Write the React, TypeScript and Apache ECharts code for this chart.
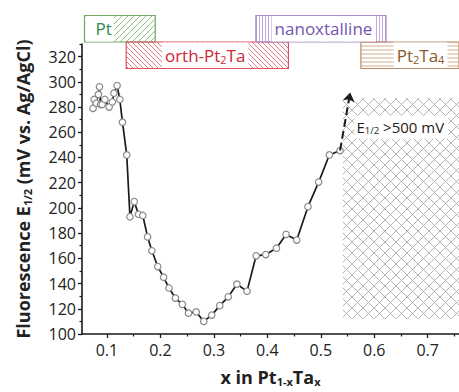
import React, { useEffect, useRef } from 'react';
import * as echarts from 'echarts';

// ---- data ----
const xValues = [
  0.074, 0.076, 0.080, 0.084, 0.086, 0.088, 0.091, 0.096, 0.104, 0.110, 0.113, 0.119, 0.124,
  0.129, 0.137, 0.143, 0.151, 0.159, 0.167, 0.176, 0.184, 0.195, 0.206, 0.216, 0.228, 0.241,
  0.2525, 0.267, 0.281, 0.296, 0.311, 0.327, 0.343, 0.362, 0.379, 0.397, 0.417, 0.435, 0.455,
  0.476, 0.496, 0.516, 0.536,
];
const yValues = [
  279, 286, 283, 290, 296, 282, 282, 286, 280, 284, 291, 297, 286,
  268, 242, 193, 205, 195, 194, 177, 166, 153.5, 145, 136.5, 128.5, 123.5,
  116.5, 117.5, 110, 115, 122.5, 129.5, 139.5, 134, 162, 163, 168, 179, 174.5,
  201, 220.5, 242, 245.5,
];
const xTickValues = [0.1, 0.2, 0.3, 0.4, 0.5, 0.6, 0.7];
const xMinorTickValues = [0.15, 0.25, 0.35, 0.45, 0.55, 0.65, 0.75];
const yTickValues = [100, 120, 140, 160, 180, 200, 220, 240, 260, 280, 300, 320];
const yMinorTickValues = [110, 130, 150, 170, 190, 210, 230, 250, 270, 290, 310, 330];
const xMin = 0.0533;
const xMax = 0.7585;
const yMin = 100;
const yMax = 330;

const phaseNames = ['Pt', 'orth-Pt{s|2}Ta', 'nanoxtalline', 'Pt{s|2}Ta{s|4}'];
const phaseStart = [0.058, 0.136, 0.3785, 0.575];
const phaseEnd = [0.1903, 0.4394, 0.622, 0.7585];
const phaseLabelCenter = [0.0938, 0.2837, 0.505, 0.6866];

const hatchX = [0.541, 0.7585];
const hatchY = [112, 287];
const arrowFrom = [0.536, 245.5];
const arrowTo = [0.555, 291.5];
const noteText = 'E{s|1/2} >500 mV';
const notePos = [0.563, 264];

const FONT = "'Open Sans', 'Noto Sans', sans-serif";

function makePattern(kind: string, size: number, color: string, lw: number) {
  const c = document.createElement('canvas');
  c.width = size;
  c.height = size;
  const ctx = c.getContext('2d')!;
  ctx.strokeStyle = color;
  ctx.lineWidth = lw;
  ctx.beginPath();
  const s = size;
  if (kind === '/' || kind === 'x') {
    ctx.moveTo(0, s); ctx.lineTo(s, 0);
    ctx.moveTo(-1, 1); ctx.lineTo(1, -1);
    ctx.moveTo(s - 1, s + 1); ctx.lineTo(s + 1, s - 1);
  }
  if (kind === '\\' || kind === 'x') {
    ctx.moveTo(0, 0); ctx.lineTo(s, s);
    ctx.moveTo(s - 1, -1); ctx.lineTo(s + 1, 1);
    ctx.moveTo(-1, s - 1); ctx.lineTo(1, s + 1);
  }
  if (kind === '|') {
    ctx.moveTo(s / 2, 0); ctx.lineTo(s / 2, s);
  }
  if (kind === '-') {
    ctx.moveTo(0, s / 2); ctx.lineTo(s, s / 2);
  }
  ctx.stroke();
  return { image: c, repeat: 'repeat', imageWidth: s, imageHeight: s } as any;
}

export default function App() {
  const ref = useRef<HTMLDivElement>(null);
  useEffect(() => {
    const chart = echarts.init(ref.current!, null, { renderer: 'svg' });
    const crossPattern = makePattern('x', 11, '#b4b4b4', 1);

    const axisCommon = {
      type: 'value' as const,
      splitLine: { show: false },
    };

    chart.setOption({
      animation: false,
      backgroundColor: '#fff',
      grid: { left: 82, right: 0, top: 44, bottom: 57 },
      xAxis: [
        {
          ...axisCommon,
          min: xMin,
          max: xMax,
          axisLine: { show: true, lineStyle: { color: '#1a1a1a', width: 1.6 } },
          axisTick: { show: true, customValues: xTickValues, length: 4, lineStyle: { color: '#1a1a1a', width: 1.3 } },
          axisLabel: {
            customValues: xTickValues,
            margin: 8,
            fontSize: 16,
            fontFamily: FONT,
            color: '#222',
            formatter: (v: number) => v.toFixed(1),
          },
          name: 'x in Pt{s|1-x}Ta{s|x}',
          nameLocation: 'middle',
          nameGap: 33,
          nameTextStyle: {
            fontSize: 18,
            fontWeight: 'bold',
            fontFamily: FONT,
            color: '#222',
            lineHeight: 20,
            rich: {
              s: { fontSize: 11, fontWeight: 'bold', fontFamily: FONT, color: '#222', verticalAlign: 'bottom', lineHeight: 9 },
            },
          },
        },
        {
          ...axisCommon,
          min: xMin,
          max: xMax,
          axisLine: { show: false },
          axisTick: { show: true, customValues: xMinorTickValues, length: 2.5, lineStyle: { color: '#1a1a1a', width: 1.2 } },
          axisLabel: { show: false },
          position: 'bottom',
        },
      ],
      yAxis: [
        {
          ...axisCommon,
          min: yMin,
          max: yMax,
          axisLine: { show: true, lineStyle: { color: '#1a1a1a', width: 1.6 } },
          axisTick: { show: true, customValues: yTickValues, length: 4, lineStyle: { color: '#1a1a1a', width: 1.3 } },
          axisLabel: {
            customValues: yTickValues,
            margin: 6,
            fontSize: 16,
            fontFamily: FONT,
            color: '#222',
          },
          name: 'Fluorescence E{s|1/2} (mV vs. Ag/AgCl)',
          nameLocation: 'middle',
          nameGap: 49,
          nameTextStyle: {
            fontSize: 18,
            fontWeight: 'bold',
            fontFamily: FONT,
            color: '#222',
            lineHeight: 20,
            rich: {
              s: { fontSize: 11, fontWeight: 'bold', fontFamily: FONT, color: '#222', verticalAlign: 'bottom', lineHeight: 9 },
            },
          },
        },
        {
          ...axisCommon,
          min: yMin,
          max: yMax,
          position: 'left',
          axisLine: { show: false },
          axisTick: { show: true, customValues: yMinorTickValues, length: 2.5, lineStyle: { color: '#1a1a1a', width: 1.2 } },
          axisLabel: { show: false },
        },
      ],
      series: [
        {
          type: 'line',
          data: [],
          z: 1,
          silent: true,
          markArea: {
            silent: true,
            itemStyle: { color: crossPattern, opacity: 1, borderWidth: 0 },
            label: { show: false },
            data: [[{ coord: [hatchX[0], hatchY[0]] }, { coord: [hatchX[1], hatchY[1]] }]],
          },
        },
        {
          type: 'line',
          z: 3,
          data: xValues.map((x, i) => [x, yValues[i]]),
          symbol: 'circle',
          symbolSize: 6.5,
          showSymbol: true,
          lineStyle: { color: '#1a1a1a', width: 1.7 },
          itemStyle: { color: '#fff', borderColor: '#8a8a8a', borderWidth: 1.2 },
          markLine: {
            silent: true,
            symbol: ['none', 'arrow'],
            symbolSize: 9,
            label: { show: false },
            lineStyle: { type: 'dashed', color: '#1a1a1a', width: 2 },
            data: [[{ coord: arrowFrom }, { coord: arrowTo }]],
          },
        },
      ],
    });

    const px = (x: number, y: number) =>
      chart.convertToPixel({ xAxisIndex: 0, yAxisIndex: 0 }, [x, y]) as number[];

    const phaseStyles = [
      { kind: '/', size: 6, hatch: '#8fc080', border: '#6fa860', text: '#2e8a4a', top: 15.5 },
      { kind: '\\', size: 5, hatch: '#e77a85', border: '#d9505e', text: '#cf2535', top: 42 },
      { kind: '|', size: 3, hatch: '#c0aadd', border: '#a98ccb', text: '#7656ad', top: 15.5 },
      { kind: '-', size: 4, hatch: '#d2ad8e', border: '#bb8c68', text: '#8a5a2c', top: 42 },
    ];
    const boxH = 26.5;
    const graphics: any[] = [];
    phaseNames.forEach((name, i) => {
      const st = phaseStyles[i];
      const x0 = px(phaseStart[i], yMin)[0];
      const x1 = px(phaseEnd[i], yMin)[0];
      graphics.push({
        type: 'rect',
        z: 10,
        shape: { x: x0, y: st.top, width: x1 - x0, height: boxH },
        style: { fill: makePattern(st.kind, st.size, st.hatch, 1), stroke: st.border, lineWidth: 1.2 },
      });
      const lc = px(phaseLabelCenter[i], yMin)[0];
      const isLeft = i === 0;
      graphics.push({
        type: 'text',
        z: 11,
        x: isLeft ? x0 + 1 : lc,
        y: st.top + boxH / 2,
        style: {
          text: name,
          fill: st.text,
          fontSize: 17,
          fontFamily: FONT,
          align: isLeft ? 'left' : 'center',
          verticalAlign: 'middle',
          backgroundColor: '#fff',
          padding: isLeft ? [3, 2, 3, 10] : [3, 3, 3, 3],
          lineHeight: 19.5,
          rich: { s: { fontSize: 11, fontFamily: FONT, fill: st.text, verticalAlign: 'bottom', lineHeight: 10 } },
        },
      });
    });
    const np = px(notePos[0], notePos[1]);
    graphics.push({
      type: 'text',
      z: 12,
      x: np[0],
      y: np[1],
      style: {
        text: noteText,
        fill: '#222',
        fontSize: 15,
        fontFamily: FONT,
        align: 'left',
        verticalAlign: 'middle',
        backgroundColor: '#fff',
        padding: [3, 4, 3, 2],
        lineHeight: 17,
        rich: { s: { fontSize: 9.5, fontFamily: FONT, fill: '#222', verticalAlign: 'bottom', lineHeight: 9 } },
      },
    });
    chart.setOption({ graphic: graphics });

    return () => chart.dispose();
  }, []);
  return (
    <div
      ref={ref}
      style={{ position: 'fixed', left: 0, top: 0, width: 459, height: 392, background: '#fff' }}
    />
  );
}
